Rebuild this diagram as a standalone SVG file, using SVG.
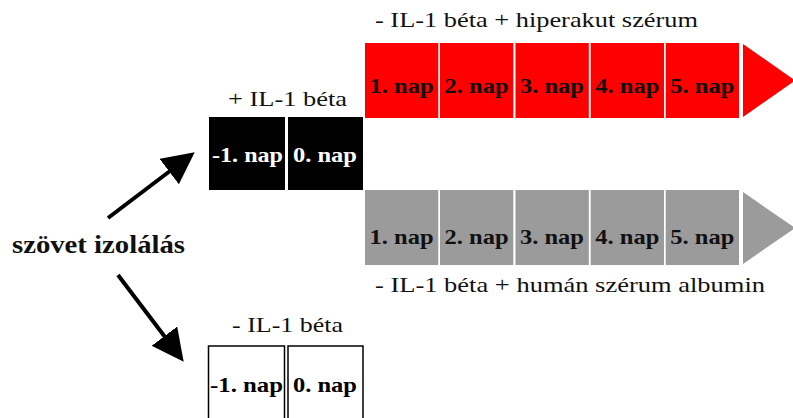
<svg xmlns="http://www.w3.org/2000/svg" width="793" height="418" viewBox="0 0 793 418">
<style>
.lbl{font-family:'Liberation Serif','Times New Roman','DejaVu Serif',serif;font-size:21px;fill:#111}
.cell{font-family:'Liberation Serif','Times New Roman','DejaVu Serif',serif;font-size:21.5px;font-weight:bold;text-anchor:middle}
.big{font-family:'Liberation Serif','Times New Roman','DejaVu Serif',serif;font-size:25px;font-weight:bold;fill:#111}
.red{fill:#fe0000}
.gray{fill:#9b9b9b}
.blk{fill:#000}
.wht{fill:#fff;stroke:#000;stroke-width:1.5}
.conn{stroke:#000;stroke-width:4;fill:none}
</style>
<defs>
<marker id="ah" markerUnits="userSpaceOnUse" markerWidth="34" markerHeight="34" refX="1" refY="16" orient="auto">
<path d="M0,0 L32,16 L0,32 z" fill="#000"/>
</marker>
</defs>
<rect width="793" height="418" fill="#fff"/>

<g id="source">
<text class="big" x="12" y="253" textLength="173" lengthAdjust="spacingAndGlyphs">szövet izolálás</text>
</g>

<g id="connectors">
<line class="conn" x1="108" y1="218" x2="170" y2="171" marker-end="url(#ah)"/>
<line class="conn" x1="118" y1="275" x2="165" y2="337" marker-end="url(#ah)"/>
</g>

<g id="plus-il1">
<text class="lbl" x="287.5" y="106" text-anchor="middle" textLength="119" lengthAdjust="spacingAndGlyphs">+ IL-1 béta</text>
<rect class="blk" x="209" y="117" width="76" height="73"/>
<rect class="blk" x="288" y="117" width="75" height="73"/>
<text class="cell" x="247.5" y="162" fill="#fff" textLength="71" lengthAdjust="spacingAndGlyphs">-1. nap</text>
<text class="cell" x="325" y="162" fill="#fff" textLength="64" lengthAdjust="spacingAndGlyphs">0. nap</text>
</g>

<g id="minus-il1">
<text class="lbl" x="287.5" y="332" text-anchor="middle" textLength="111" lengthAdjust="spacingAndGlyphs">- IL-1 béta</text>
<rect class="wht" x="208.5" y="346" width="76" height="80"/>
<rect class="wht" x="288" y="346" width="75" height="80"/>
<text class="cell" x="246.5" y="392" fill="#000" textLength="73" lengthAdjust="spacingAndGlyphs">-1. nap</text>
<text class="cell" x="325" y="392" fill="#000" textLength="64" lengthAdjust="spacingAndGlyphs">0. nap</text>
</g>

<g id="red-row">
<text class="lbl" x="375" y="27" textLength="323" lengthAdjust="spacingAndGlyphs">- IL-1 béta + hiperakut szérum</text>
<rect class="red" x="365" y="43" width="73.3" height="75"/>
<rect class="red" x="440" y="43" width="73.3" height="75"/>
<rect class="red" x="515.5" y="43" width="73.3" height="75"/>
<rect class="red" x="590.7" y="43" width="73.3" height="75"/>
<rect class="red" x="665.7" y="43" width="73.3" height="75"/>
<polygon class="red" points="743,44 795,80.5 743,117"/>
<text class="cell" x="401.6" y="92.5" fill="#111" textLength="64" lengthAdjust="spacingAndGlyphs">1. nap</text>
<text class="cell" x="476.6" y="92.5" fill="#111" textLength="64" lengthAdjust="spacingAndGlyphs">2. nap</text>
<text class="cell" x="552" y="92.5" fill="#111" textLength="64" lengthAdjust="spacingAndGlyphs">3. nap</text>
<text class="cell" x="627.3" y="92.5" fill="#111" textLength="64" lengthAdjust="spacingAndGlyphs">4. nap</text>
<text class="cell" x="702.3" y="92.5" fill="#111" textLength="64" lengthAdjust="spacingAndGlyphs">5. nap</text>
</g>

<g id="gray-row">
<rect class="gray" x="365" y="190" width="73.3" height="75"/>
<rect class="gray" x="440" y="190" width="73.3" height="75"/>
<rect class="gray" x="515.5" y="190" width="73.3" height="75"/>
<rect class="gray" x="590.7" y="190" width="73.3" height="75"/>
<rect class="gray" x="665.7" y="190" width="73.3" height="75"/>
<polygon class="gray" points="743,192 795,228 743,264"/>
<text class="cell" x="401.6" y="244" fill="#111" textLength="64" lengthAdjust="spacingAndGlyphs">1. nap</text>
<text class="cell" x="476.6" y="244" fill="#111" textLength="64" lengthAdjust="spacingAndGlyphs">2. nap</text>
<text class="cell" x="552" y="244" fill="#111" textLength="64" lengthAdjust="spacingAndGlyphs">3. nap</text>
<text class="cell" x="627.3" y="244" fill="#111" textLength="64" lengthAdjust="spacingAndGlyphs">4. nap</text>
<text class="cell" x="702.3" y="244" fill="#111" textLength="64" lengthAdjust="spacingAndGlyphs">5. nap</text>
<text class="lbl" x="375" y="292" textLength="390" lengthAdjust="spacingAndGlyphs">- IL-1 béta + humán szérum albumin</text>
</g>
</svg>
